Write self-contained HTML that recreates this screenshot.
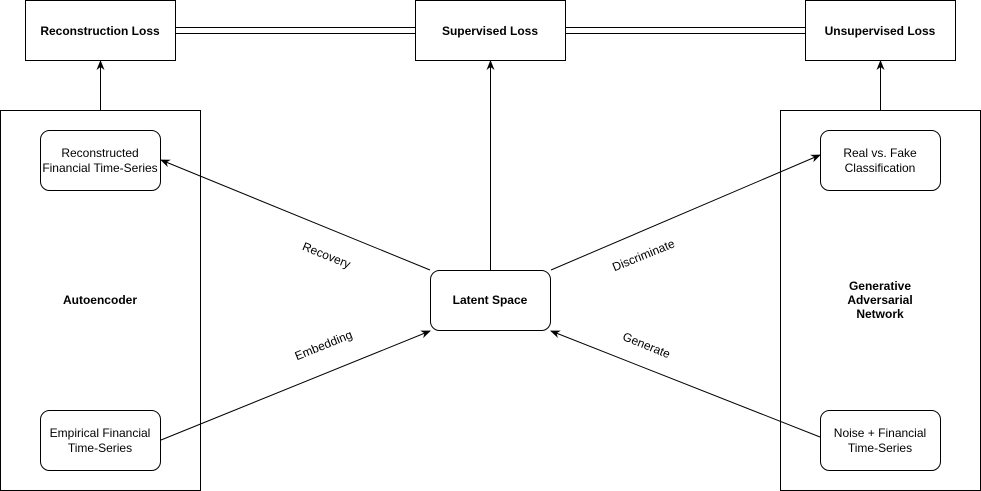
<!DOCTYPE html>
<html><head><meta charset="utf-8"><style>
html,body{margin:0;padding:0;background:#fff;}
svg{display:block;}
text{font-family:"Liberation Sans",Arial,sans-serif;font-size:12px;fill:#000;}
.b{font-weight:bold;}
</style></head><body>
<svg width="981" height="491" viewBox="0 0 981 491">
<defs><marker id="a" markerWidth="10" markerHeight="10" refX="9" refY="5" orient="auto" markerUnits="userSpaceOnUse"><path d="M0,1 L10,5 L0,9 L3,5 z" fill="#000"/></marker></defs>
<g fill="#fff" stroke="#000" stroke-width="1">
<rect x="25.5" y="0.5" width="150" height="60"/>
<rect x="415.5" y="0.5" width="150" height="60"/>
<rect x="805.5" y="0.5" width="150" height="60"/>
<rect x="0.5" y="110.5" width="200" height="380"/>
<rect x="780.5" y="110.5" width="200" height="380"/>
<rect x="40.5" y="130.5" width="120" height="60" rx="9"/>
<rect x="40.5" y="410.5" width="120" height="60" rx="9"/>
<rect x="820.5" y="130.5" width="120" height="60" rx="9"/>
<rect x="820.5" y="410.5" width="120" height="60" rx="9"/>
<rect x="430.5" y="270.5" width="120" height="60" rx="9"/>
</g>
<g stroke="#000" stroke-width="1" fill="none">
<line x1="176" y1="27.5" x2="415" y2="27.5"/><line x1="176" y1="33.5" x2="415" y2="33.5"/>
<line x1="566" y1="27.5" x2="805" y2="27.5"/><line x1="566" y1="33.5" x2="805" y2="33.5"/>
<line x1="100.5" y1="110" x2="100.5" y2="61" marker-end="url(#a)"/>
<line x1="490.5" y1="270" x2="490.5" y2="61" marker-end="url(#a)"/>
<line x1="880.5" y1="110" x2="880.5" y2="61" marker-end="url(#a)"/>
<line x1="430" y1="270" x2="161" y2="160" marker-end="url(#a)"/>
<line x1="161" y1="440" x2="430" y2="331" marker-end="url(#a)"/>
<line x1="551" y1="270" x2="820" y2="155" marker-end="url(#a)"/>
<line x1="820" y1="437" x2="551" y2="331" marker-end="url(#a)"/>
</g>
<g text-anchor="middle">
<text x="100" y="35" class="b">Reconstruction Loss</text>
<text x="490" y="35" class="b">Supervised Loss</text>
<text x="880" y="35" class="b">Unsupervised Loss</text>
<text x="100" y="304" class="b">Autoencoder</text>
<text x="880" y="290" class="b">Generative</text>
<text x="880" y="304" class="b">Adversarial</text>
<text x="880" y="318" class="b">Network</text>
<text x="490" y="304" class="b">Latent Space</text>
<text x="100" y="157">Reconstructed</text>
<text x="100" y="172">Financial Time-Series</text>
<text x="100" y="437">Empirical Financial</text>
<text x="100" y="452">Time-Series</text>
<text x="880" y="157">Real vs. Fake</text>
<text x="880" y="172">Classification</text>
<text x="880" y="437">Noise + Financial</text>
<text x="880" y="452">Time-Series</text>
<text transform="translate(325,259) rotate(22)">Recovery</text>
<text transform="translate(325,349) rotate(-22)">Embedding</text>
<text transform="translate(645,259) rotate(-22)">Discriminate</text>
<text transform="translate(645,349) rotate(22)">Generate</text>
</g>
</svg>
</body></html>
